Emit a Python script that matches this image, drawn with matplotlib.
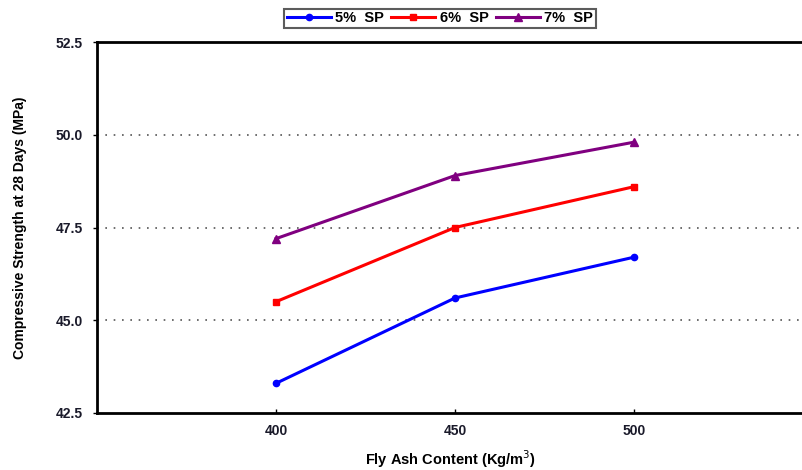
import matplotlib
matplotlib.use("Agg")
import matplotlib.pyplot as plt

fly_ash = [400, 450, 500]
sp5 = [43.3, 45.6, 46.7]
sp6 = [45.5, 47.5, 48.6]
sp7 = [47.2, 48.9, 49.8]
series_labels = ["5%  SP", "6%  SP", "7%  SP"]
yticks = [42.5, 45.0, 47.5, 50.0, 52.5]
xticks = [400, 450, 500]

plt.rcParams['font.family'] = ['Liberation Sans', 'DejaVu Sans']

fig = plt.figure(figsize=(8.03, 4.70), dpi=100)
ax = fig.add_axes([97/803, 1-413/470, 1-97/803, (413-42)/470])

ax.plot(fly_ash, sp5, color='#0000ff', lw=2.2, marker='o', ms=4.5, label=series_labels[0])
ax.plot(fly_ash, sp6, color='#ff0000', lw=2.2, marker='s', ms=4.5, label=series_labels[1])
ax.plot(fly_ash, sp7, color='#800080', lw=2.2, marker='^', ms=5.5, label=series_labels[2])

ax.set_xlim(350, 547.2)
ax.set_ylim(42.5, 52.5)
ax.set_xticks(xticks)
ax.set_yticks(yticks)
ax.set_yticklabels([f"{v:.1f}" for v in yticks])
for y in [45.0, 47.5, 50.0]:
    ax.axhline(y, color='#555555', lw=1.2, ls=(0, (1, 4)), zorder=0)

ax.spines['right'].set_visible(False)
for s in ['left', 'bottom', 'top']:
    ax.spines[s].set_linewidth(2)
ax.tick_params(axis='y', direction='out', length=3, width=1, labelsize=10, pad=7)
ax.tick_params(axis='x', direction='in', length=3, width=1, labelsize=10, pad=8)
for lab in ax.get_xticklabels() + ax.get_yticklabels():
    lab.set_fontweight('bold')
    lab.set_color('#1a1a2a')

ax.set_xlabel("Fly Ash Content (Kg/m$^3$)", fontsize=10.5, fontweight='bold', labelpad=7)
ax.set_ylabel("Compressive Strength at 28 Days (MPa)", fontsize=10, fontweight='bold', labelpad=21)

leg = fig.legend(loc='center', bbox_to_anchor=(440/803, 1-18.5/470), ncol=3, frameon=True,
                 fancybox=False, edgecolor='#333333', handlelength=3.0,
                 handletextpad=0.3, columnspacing=0.5, borderpad=0.2, prop={'weight': 'bold', 'size': 10.5})
leg.get_frame().set_linewidth(1.5)

fig.savefig("out.png", dpi=100)
